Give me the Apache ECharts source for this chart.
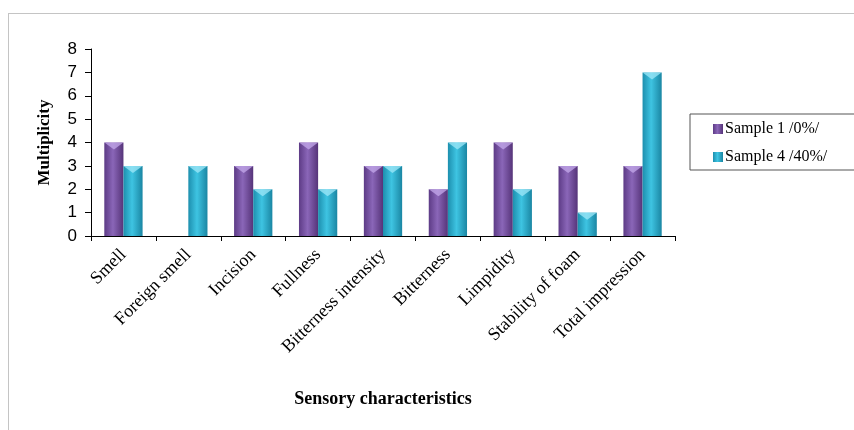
<!DOCTYPE html>
<html>
<head>
<meta charset="utf-8">
<script src="https://cdn.jsdelivr.net/npm/echarts@6/dist/echarts.min.js"></script>
<style>
  html, body { margin: 0; padding: 0; background: #fff; }
  #frame { position: absolute; left: 8px; top: 13px; width: 846px; height: 417px;
           border-top: 1px solid #c4c4c4; border-left: 1px solid #c4c4c4; }
  #main { position: absolute; left: 0; top: 0; width: 854px; height: 430px; }
</style>
</head>
<body>
<div id="frame"></div>
<div id="main"></div>
<script>
var categories = ['Smell', 'Foreign smell', 'Incision', 'Fullness', 'Bitterness intensity',
                  'Bitterness', 'Limpidity', 'Stability of foam', 'Total impression'];
var sample1 = [4, 0, 3, 4, 3, 2, 4, 3, 3];
var sample4 = [3, 3, 2, 2, 3, 4, 2, 1, 7];
var yTicks = [0, 8, 1];

function grad(dark, light, darker) {
    return new echarts.graphic.LinearGradient(0, 0, 1, 0, [
        {offset: 0, color: dark},
        {offset: 0.45, color: light},
        {offset: 1, color: darker}
    ]);
}

// light bevel on top of each bar (zero bars get none)
function bevel(vals, color, side) {
    return {
        type: 'pictorialBar',
        data: vals.map(function (v) { return v > 0 ? v : '-'; }),
        symbol: 'triangle',
        symbolRotate: 180,
        symbolSize: [19, 7],
        symbolPosition: 'end',
        symbolOffset: [side, 0],
        itemStyle: { color: color },
        z: 3,
        silent: true
    };
}

var option = {
    animation: false,
    grid: { left: 91, right: 179, top: 49, bottom: 194 },
    legend: {
        orient: 'vertical',
        left: 690, top: 114,
        padding: [7, 30, 5, 23],
        itemGap: 12,
        itemWidth: 10, itemHeight: 10,
        borderColor: '#555', borderWidth: 1,
        icon: 'rect',
        textStyle: { fontFamily: 'Liberation Serif', fontSize: 16, color: '#000', padding: [0, 0, 0, -3] },
        data: ['Sample 1 /0%/', 'Sample 4 /40%/']
    },
    xAxis: {
        type: 'category',
        data: categories,
        name: 'Sensory characteristics',
        nameLocation: 'middle',
        nameGap: 154,
        nameTextStyle: { fontFamily: 'Liberation Serif', fontSize: 18, fontWeight: 'bold', color: '#000' },
        axisLine: { lineStyle: { color: '#000' } },
        axisTick: { show: true, length: 5, lineStyle: { color: '#000' } },
        axisLabel: { rotate: 45, margin: 16, fontFamily: 'Liberation Serif', fontSize: 18, color: '#000' }
    },
    yAxis: {
        type: 'value',
        min: yTicks[0], max: yTicks[1], interval: yTicks[2],
        name: 'Multiplicity',
        nameLocation: 'middle',
        nameGap: 38,
        nameTextStyle: { fontFamily: 'Liberation Serif', fontSize: 17, fontWeight: 'bold', color: '#000' },
        splitLine: { show: false },
        axisLine: { show: true, lineStyle: { color: '#000' } },
        axisTick: { show: true, length: 6, lineStyle: { color: '#000' } },
        axisLabel: { margin: 14, fontFamily: 'Liberation Sans', fontSize: 17, color: '#000' }
    },
    series: [
        {
            name: 'Sample 1 /0%/',
            type: 'bar',
            data: sample1,
            barGap: '0%',
            barCategoryGap: '41%',
            itemStyle: { color: grad('#5d3b86', '#8a66b8', '#563479') }
        },
        {
            name: 'Sample 4 /40%/',
            type: 'bar',
            data: sample4,
            itemStyle: { color: grad('#1d8fae', '#3ec4e2', '#1a86a3') }
        },
        bevel(sample1, 'rgba(196,170,235,0.75)', '-50%'),
        bevel(sample4, 'rgba(160,232,248,0.75)', '50%')
    ]
};

echarts.init(document.getElementById('main')).setOption(option);
</script>
</body>
</html>
